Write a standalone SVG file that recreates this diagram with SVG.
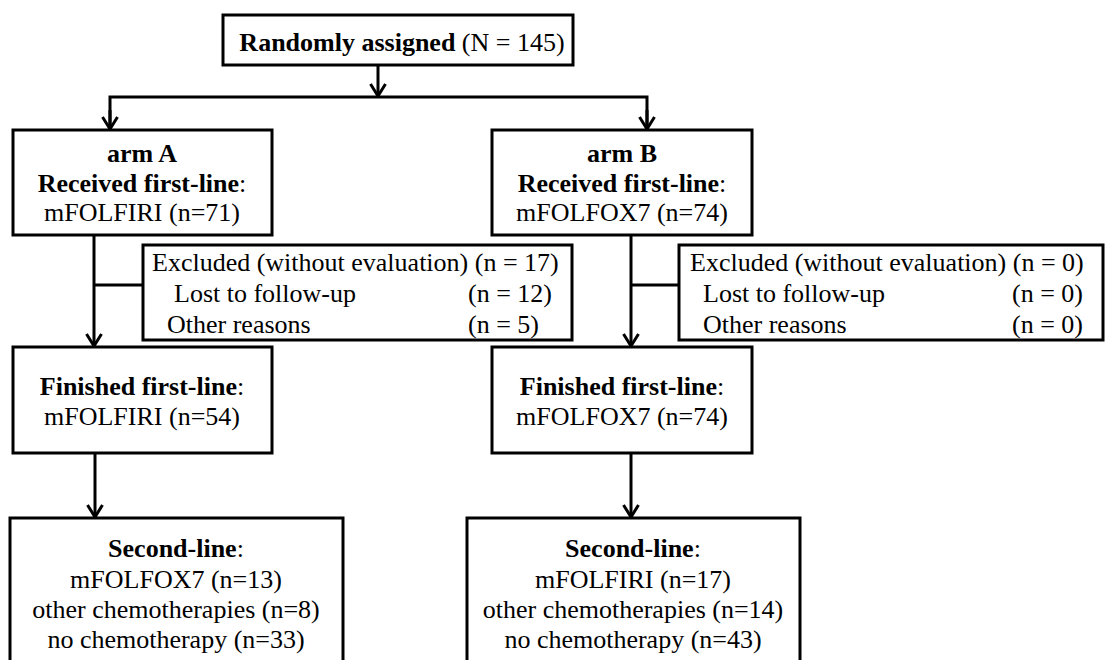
<svg xmlns="http://www.w3.org/2000/svg" width="1105" height="660" viewBox="0 0 1105 660">
<style>
  .box { fill: #fff; stroke: #000; stroke-width: 3; }
  .t { font-family: "Liberation Serif", "Times New Roman", serif; font-size: 26px; fill: #000; }
  .c { text-anchor: middle; }
  .b { font-weight: bold; }
  .ln { fill: none; stroke: #000; stroke-width: 3; }
</style>
<defs>
  <marker id="arr" markerUnits="userSpaceOnUse" viewBox="-15 -10 17 20" refX="0" refY="0" markerWidth="17" markerHeight="20" orient="auto">
    <path d="M -12 -7.5 L 0 0 L -12 7.5" fill="none" stroke="#000" stroke-width="3"/>
  </marker>
</defs>
<rect width="1105" height="660" fill="#fff"/>
<g id="connectors">
  <line class="ln" x1="378" y1="65" x2="378" y2="96" marker-end="url(#arr)"/>
  <polyline class="ln" points="110,129 110,97 647,97 647,129"/>
  <line class="ln" x1="110" y1="110" x2="110" y2="129" marker-end="url(#arr)"/>
  <line class="ln" x1="647" y1="110" x2="647" y2="129" marker-end="url(#arr)"/>
  <line class="ln" x1="94" y1="235" x2="94" y2="346" marker-end="url(#arr)"/>
  <line class="ln" x1="94" y1="285" x2="143" y2="285"/>
  <line class="ln" x1="631" y1="235" x2="631" y2="346" marker-end="url(#arr)"/>
  <line class="ln" x1="631" y1="285" x2="679" y2="285"/>
  <line class="ln" x1="95" y1="453" x2="95" y2="517" marker-end="url(#arr)"/>
  <line class="ln" x1="631" y1="453" x2="631" y2="517" marker-end="url(#arr)"/>
</g>
<g id="randomized">
  <rect class="box" x="223" y="15" width="350" height="50"/>
  <text class="t c" x="402" y="51"><tspan class="b">Randomly assigned</tspan> (N = 145)</text>
</g>
<g id="armA">
  <rect class="box" x="13" y="130" width="259" height="105"/>
  <text class="t c b" x="142" y="162">arm A</text>
  <text class="t c" x="142" y="192"><tspan class="b">Received first-line</tspan>:</text>
  <text class="t c" x="142" y="221">mFOLFIRI (n=71)</text>
</g>
<g id="armB">
  <rect class="box" x="492" y="130" width="260" height="105"/>
  <text class="t c b" x="622" y="162">arm B</text>
  <text class="t c" x="622" y="192"><tspan class="b">Received first-line</tspan>:</text>
  <text class="t c" x="622" y="221">mFOLFOX7 (n=74)</text>
</g>
<g id="excludedA">
  <rect class="box" x="143" y="245" width="429" height="95"/>
  <text class="t" x="152" y="271">Excluded (without evaluation) (n = 17)</text>
  <text class="t" x="174" y="302">Lost to follow-up</text>
  <text class="t" x="468" y="302">(n = 12)</text>
  <text class="t" x="167" y="333">Other reasons</text>
  <text class="t" x="468" y="333">(n = 5)</text>
</g>
<g id="excludedB">
  <rect class="box" x="679" y="245" width="424" height="95"/>
  <text class="t" x="690" y="271">Excluded (without evaluation) (n = 0)</text>
  <text class="t" x="703" y="302">Lost to follow-up</text>
  <text class="t" x="1012" y="302">(n = 0)</text>
  <text class="t" x="703" y="333">Other reasons</text>
  <text class="t" x="1012" y="333">(n = 0)</text>
</g>
<g id="finishedA">
  <rect class="box" x="13" y="347" width="259" height="106"/>
  <text class="t c" x="142" y="395"><tspan class="b">Finished first-line</tspan>:</text>
  <text class="t c" x="142" y="425">mFOLFIRI (n=54)</text>
</g>
<g id="finishedB">
  <rect class="box" x="492" y="347" width="260" height="106"/>
  <text class="t c" x="622" y="395"><tspan class="b">Finished first-line</tspan>:</text>
  <text class="t c" x="622" y="425">mFOLFOX7 (n=74)</text>
</g>
<g id="secondA">
  <rect class="box" x="10" y="518" width="333" height="150"/>
  <text class="t c" x="176" y="557"><tspan class="b">Second-line</tspan>:</text>
  <text class="t c" x="176" y="588">mFOLFOX7 (n=13)</text>
  <text class="t c" x="176" y="618">other chemotherapies (n=8)</text>
  <text class="t c" x="176" y="648">no chemotherapy (n=33)</text>
</g>
<g id="secondB">
  <rect class="box" x="467" y="518" width="333" height="150"/>
  <text class="t c" x="633" y="557"><tspan class="b">Second-line</tspan>:</text>
  <text class="t c" x="633" y="588">mFOLFIRI (n=17)</text>
  <text class="t c" x="633" y="618">other chemotherapies (n=14)</text>
  <text class="t c" x="633" y="648">no chemotherapy (n=43)</text>
</g>
</svg>
